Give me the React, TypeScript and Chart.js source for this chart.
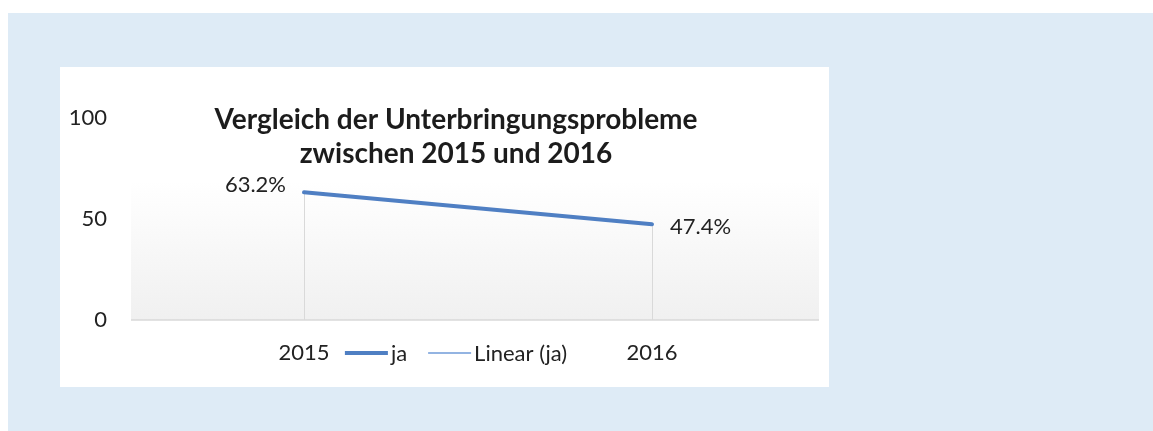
import React, { useEffect, useRef } from "react";
import { Chart, registerables } from "chart.js";

Chart.register(...registerables);

const categories = ["2015", "2016"];
const jaValues = [63.2, 47.4];
const yTickValues = [0, 50, 100];
const labelSides = ["left", "right"];
const titleLines = ["Vergleich der Unterbringungsprobleme", "zwischen 2015 und 2016"];
const seriesName = "ja";
const trendName = "Linear (ja)";

// linear trend line (least squares) from the series values
function linearTrend(values: number[]): number[] {
  const n = values.length;
  const xs = values.map((_, i) => i + 1);
  const mx = xs.reduce((a, b) => a + b, 0) / n;
  const my = values.reduce((a, b) => a + b, 0) / n;
  let num = 0;
  let den = 0;
  xs.forEach((x, i) => {
    num += (x - mx) * (values[i] - my);
    den += (x - mx) * (x - mx);
  });
  const slope = den === 0 ? 0 : num / den;
  const icpt = my - slope * mx;
  return xs.map((x) => icpt + slope * x);
}

const FONT = "Lato";
const TEXT = "#222222";
const LINE_BLUE = "#4f7fc3";
const TREND_BLUE = "#6f9bd8";
const LABEL_SIZE = 22;

const decorPlugin = {
  id: "decor",
  beforeDatasetsDraw(chart: any) {
    const { ctx, chartArea: a } = chart;
    ctx.save();
    const top = a.top + 63;
    const g = ctx.createLinearGradient(0, top, 0, a.bottom);
    g.addColorStop(0, "#ffffff");
    g.addColorStop(1, "#f0f0f0");
    ctx.fillStyle = g;
    ctx.fillRect(a.left + 1, top, a.width - 8, a.bottom - top);
    // drop lines
    const meta = chart.getDatasetMeta(0);
    ctx.strokeStyle = "#d9d9d9";
    ctx.lineWidth = 1;
    meta.data.forEach((p: any) => {
      const x = Math.round(p.x) + 0.5;
      ctx.beginPath();
      ctx.moveTo(x, p.y);
      ctx.lineTo(x, a.bottom);
      ctx.stroke();
    });
    // category axis line
    ctx.strokeStyle = "#d9d9d9";
    ctx.lineWidth = 1.5;
    ctx.beginPath();
    ctx.moveTo(a.left + 1, a.bottom);
    ctx.lineTo(a.right - 7, a.bottom);
    ctx.stroke();
    ctx.restore();
  },
  afterDraw(chart: any) {
    const { ctx, chartArea: a } = chart;
    const cx = chart.width / 2 + 11.5;
    ctx.save();
    // title
    ctx.fillStyle = "#1c1c1c";
    ctx.font = `bold 28px ${FONT}`;
    ctx.textAlign = "center";
    ctx.textBaseline = "alphabetic";
    titleLines.forEach((t, i) => {
      ctx.fillText(t, cx, 62 + i * 34);
    });
    // data labels
    ctx.font = `${LABEL_SIZE}px ${FONT}`;
    ctx.fillStyle = TEXT;
    ctx.textBaseline = "middle";
    const meta = chart.getDatasetMeta(0);
    meta.data.forEach((p: any, i: number) => {
      const txt = jaValues[i].toFixed(1) + "%";
      if (labelSides[i] === "left") {
        ctx.textAlign = "right";
        ctx.fillText(txt, p.x - 18, p.y - 7);
      } else {
        ctx.textAlign = "left";
        ctx.fillText(txt, p.x + 18, p.y + 3);
      }
    });
    // legend
    const ly = a.bottom + 33;
    const items = chart.data.datasets.map((d: any) => ({
      text: d.label,
      color: d.borderColor,
      width: d.borderWidth,
    }));
    const lineLen = 43;
    const gapText = 3;
    const gapItem = 21;
    ctx.font = `${LABEL_SIZE}px ${FONT}`;
    let total = 0;
    items.forEach((it: any, i: number) => {
      total += lineLen + gapText + ctx.measureText(it.text).width;
      if (i < items.length - 1) total += gapItem;
    });
    let x = cx - total / 2;
    items.forEach((it: any) => {
      ctx.strokeStyle = it.color;
      ctx.lineWidth = it.width;
      ctx.beginPath();
      ctx.moveTo(x, ly);
      ctx.lineTo(x + lineLen, ly);
      ctx.stroke();
      x += lineLen + gapText;
      ctx.fillStyle = TEXT;
      ctx.textAlign = "left";
      ctx.textBaseline = "middle";
      ctx.fillText(it.text, x, ly + 1);
      x += ctx.measureText(it.text).width + gapItem;
    });
    ctx.restore();
  },
};

export default function App() {
  const ref = useRef<HTMLCanvasElement | null>(null);

  useEffect(() => {
    if (!ref.current) return;
    const chart = new Chart(ref.current, {
      type: "line",
      data: {
        labels: categories,
        datasets: [
          {
            label: seriesName,
            data: jaValues,
            borderColor: LINE_BLUE,
            backgroundColor: LINE_BLUE,
            borderWidth: 4,
            pointRadius: 0,
            tension: 0,
            borderCapStyle: "round",
          },
          {
            label: trendName,
            data: linearTrend(jaValues),
            borderColor: TREND_BLUE,
            backgroundColor: TREND_BLUE,
            borderWidth: 1.5,
            pointRadius: 0,
            tension: 0,
          },
        ],
      },
      options: {
        responsive: false,
        animation: false,
        layout: { padding: { top: 51, right: 3, left: 0, bottom: 0 } },
        plugins: {
          legend: { display: false },
          title: { display: false },
          tooltip: { enabled: false },
        },
        scales: {
          x: {
            type: "category",
            offset: true,
            grid: { display: false, drawTicks: false },
            border: { display: false },
            ticks: {
              font: { family: FONT, size: LABEL_SIZE },
              color: TEXT,
              padding: 20,
              maxRotation: 0,
            },
            afterFit: (s: any) => {
              s.height = 67;
            },
          },
          y: {
            min: 0,
            max: 100,
            grid: { display: false, drawTicks: false },
            border: { display: false },
            ticks: {
              font: { family: FONT, size: LABEL_SIZE },
              color: TEXT,
              padding: 23,
            },
            afterBuildTicks: (s: any) => {
              s.ticks = yTickValues.map((v) => ({ value: v }));
            },
            afterFit: (s: any) => {
              s.width = 70;
            },
          },
        },
      },
      plugins: [decorPlugin],
    });
    return () => chart.destroy();
  }, []);

  return (
    <div
      style={{
        position: "absolute",
        left: 8,
        top: 13,
        width: 1145,
        height: 418,
        background: "#deebf6",
      }}
    >
      <div
        style={{
          position: "absolute",
          left: 52,
          top: 54,
          width: 769,
          height: 320,
          background: "#ffffff",
        }}
      >
        <canvas ref={ref} width={769} height={320} style={{ display: "block" }} />
      </div>
    </div>
  );
}
